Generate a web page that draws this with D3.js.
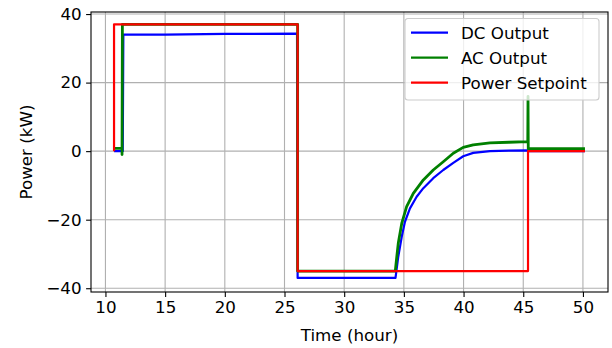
<!DOCTYPE html>
<html>
<head>
<meta charset="utf-8">
<script src="https://cdn.jsdelivr.net/npm/d3@7"></script>
<style>
  body { margin: 0; background: #fff; }
  svg { display: block; font-family: "DejaVu Sans", sans-serif; }
</style>
</head>
<body>
<div id="chart"></div>
<script>
// series (time in hours, power in kW)
const dcTime = [10.72, 11.45, 11.5, 15, 20, 26.05, 26.1, 34.3, 34.4, 34.53, 34.82, 35.09, 35.51, 36.07, 36.63, 37.46, 38.3, 39.14, 39.97, 40.81, 42.21, 43.8, 45.38, 45.4, 50.17];
const dcPower = [0, 0, 34.0, 34.0, 34.2, 34.3, -37, -37, -34.3, -30.8, -25.0, -20.6, -16.7, -13.3, -10.8, -7.9, -5.5, -3.4, -1.5, -0.5, 0, 0.15, 0.2, 0, 0];

const acTime = [10.72, 11.39, 11.39, 11.42, 26.1, 26.1, 34.28, 34.4, 34.53, 34.82, 35.23, 35.79, 36.63, 37.46, 38.3, 39.14, 39.97, 40.81, 42.21, 43.8, 45.38, 45.4, 45.42, 50.17];
const acPower = [0.8, 0.8, -1, 37, 37, -35, -35, -31, -26.9, -21.1, -16.2, -12.3, -8.4, -5.5, -3.1, -0.6, 1.1, 1.8, 2.4, 2.6, 2.8, 16, 0.7, 0.7];

const spTime = [10.72, 10.72, 26.1, 26.1, 45.4, 45.4, 50.17];
const spPower = [0, 37, 37, -35, -35, 0, 0];

const xTicks = [10, 15, 20, 25, 30, 35, 40, 45, 50];
const yTicks = [-40, -20, 0, 20, 40];
const seriesNames = ["DC Output", "AC Output", "Power Setpoint"];
const seriesColors = ["#0000ff", "#008000", "#ff0000"];

const W = 612, H = 348;
const margin = { top: 12, left: 91, right: 4, bottom: 56 };
const fs = 16.7;

const svg = d3.select("#chart").append("svg")
    .attr("width", W)
    .attr("height", H);

const x = d3.scaleLinear().domain([8.79, 52.1]).range([margin.left, W - margin.right]);
const y = d3.scaleLinear().domain([-41.1, 40.6]).range([H - margin.bottom, margin.top]);

// grid
const grid = svg.append("g").attr("stroke", "#b0b0b0").attr("stroke-width", 1.1);
xTicks.forEach(t => grid.append("line")
    .attr("x1", x(t)).attr("x2", x(t))
    .attr("y1", y.range()[0]).attr("y2", y.range()[1]));
yTicks.forEach(t => grid.append("line")
    .attr("x1", x.range()[0]).attr("x2", x.range()[1])
    .attr("y1", y(t)).attr("y2", y(t)));

// lines
const line = d3.line().x(d => x(d[0])).y(d => y(d[1]));
const series = [
    d3.zip(dcTime, dcPower),
    d3.zip(acTime, acPower),
    d3.zip(spTime, spPower),
];
const widths = [2.2, 2.8, 2.2];
series.forEach((s, i) => {
    svg.append("path")
        .attr("d", line(s))
        .attr("fill", "none")
        .attr("stroke", seriesColors[i])
        .attr("stroke-width", widths[i])
        .attr("stroke-linejoin", "round");
});

// axes
const xAxis = d3.axisBottom(x).tickValues(xTicks).tickSize(4.9).tickPadding(4.5).tickFormat(d3.format("d"));
const yAxis = d3.axisLeft(y).tickValues(yTicks).tickSize(4.9).tickPadding(4.5)
    .tickFormat(d => d < 0 ? "\u2212" + Math.abs(d) : d);

const gx = svg.append("g").attr("transform", `translate(0,${y.range()[0]})`).call(xAxis);
const gy = svg.append("g").attr("transform", `translate(${x.range()[0]},0)`).call(yAxis);
[gx, gy].forEach(g => {
    g.select(".domain").remove();
    g.selectAll("line").attr("stroke", "#000").attr("stroke-width", 1.1);
    g.selectAll("text").attr("font-size", fs).attr("fill", "#000")
        .attr("font-family", "DejaVu Sans, sans-serif");
});

// frame
svg.append("rect")
    .attr("x", x.range()[0]).attr("y", y.range()[1])
    .attr("width", x.range()[1] - x.range()[0])
    .attr("height", y.range()[0] - y.range()[1])
    .attr("fill", "none").attr("stroke", "#000").attr("stroke-width", 1.1);

// axis labels
svg.append("text")
    .attr("x", (x.range()[0] + x.range()[1]) / 2).attr("y", 341)
    .attr("text-anchor", "middle").attr("font-size", fs)
    .text("Time (hour)");
svg.append("text")
    .attr("transform", `translate(32,${(y.range()[0] + y.range()[1]) / 2}) rotate(-90)`)
    .attr("text-anchor", "middle").attr("font-size", fs)
    .text("Power (kW)");

// legend
const lg = svg.append("g").attr("transform", "translate(405,18.5)");
lg.append("rect")
    .attr("width", 194).attr("height", 81.5).attr("rx", 3)
    .attr("fill", "#fff").attr("fill-opacity", 0.8)
    .attr("stroke", "#cccccc").attr("stroke-width", 1.1);
seriesNames.forEach((name, i) => {
    const cy = 14.2 + i * 25;
    lg.append("line")
        .attr("x1", 6).attr("x2", 43).attr("y1", cy).attr("y2", cy)
        .attr("stroke", seriesColors[i]).attr("stroke-width", 2.2);
    lg.append("text")
        .attr("x", 56).attr("y", cy).attr("dy", "0.36em")
        .attr("font-size", fs).text(name);
});
</script>
</body>
</html>
